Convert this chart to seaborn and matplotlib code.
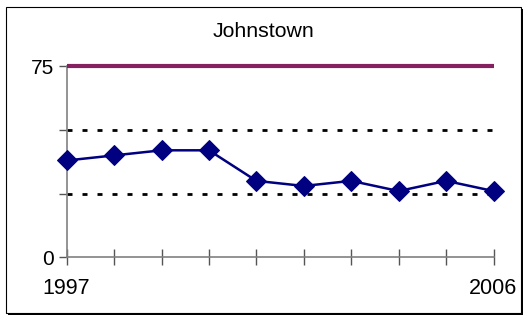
import matplotlib
matplotlib.use('Agg')
import matplotlib.pyplot as plt
from matplotlib.patches import Rectangle
import pandas as pd
import seaborn as sns

# data
years = [1997, 1998, 1999, 2000, 2001, 2002, 2003, 2004, 2005, 2006]
values = [38, 40, 42, 42, 30, 28, 30, 26, 30, 26]
target = 75
band_upper = 50
band_lower = 25

df = pd.DataFrame({'year': years, 'value': values})

sns.set_style('white')
plt.rcParams['font.family'] = ['Liberation Sans', 'DejaVu Sans']
plt.rcParams['text.color'] = 'black'
plt.rcParams['xtick.color'] = 'black'
plt.rcParams['ytick.color'] = 'black'

fig = plt.figure(figsize=(5.25, 3.18), dpi=100)
ax = fig.add_axes([0.127, 0.191, 0.813, 0.6006])

# outer chart frame with shadow
fig.patches.append(Rectangle((0.015, 0.01), 0.982, 0.962, transform=fig.transFigure,
                             facecolor='black', edgecolor='none', zorder=-2))
fig.patches.append(Rectangle((0.011, 0.017), 0.982, 0.961, transform=fig.transFigure,
                             facecolor='white', edgecolor='black', linewidth=0.8, zorder=-1))

ax.patch.set_alpha(0)

ax.plot([years[0], years[-1]], [target, target], color='#852061', lw=3, clip_on=False,
        solid_capstyle='butt', zorder=3)
for lvl in (band_upper, band_lower):
    ax.plot([years[0], years[-1]], [lvl, lvl], color='black', lw=2,
            linestyle=(0, (1.8, 3.6)), zorder=2)

sns.lineplot(data=df, x='year', y='value', ax=ax, color='#000080', lw=1.8,
             marker='D', markersize=10, markeredgecolor='#000080', clip_on=False, zorder=4)

ax.set_xlim(years[0], years[-1])
ax.set_ylim(0, 75)
ax.set_xticks(years)
ax.set_xticklabels(['1997'] + [''] * 8 + ['2006'])
ax.set_yticks([0, 25, 50, 75])
ax.set_yticklabels(['0', '', '', '75'])
ax.set_xlabel('')
ax.set_ylabel('')
ax.tick_params(axis='x', direction='inout', length=12, width=1, color='#555555',
               labelsize=15.5, pad=9)
ax.tick_params(axis='y', direction='out', length=6, width=1, color='#555555',
               labelsize=15, pad=3)
ax.tick_params(bottom=True, left=True)

for s in ('top', 'right'):
    ax.spines[s].set_visible(False)
for s in ('left', 'bottom'):
    ax.spines[s].set_color('#808080')
    ax.spines[s].set_linewidth(1.2)

fig.text(0.501, 0.902, 'Johnstown', ha='center', va='center', fontsize=15.3)

fig.savefig('out.png', dpi=100)
